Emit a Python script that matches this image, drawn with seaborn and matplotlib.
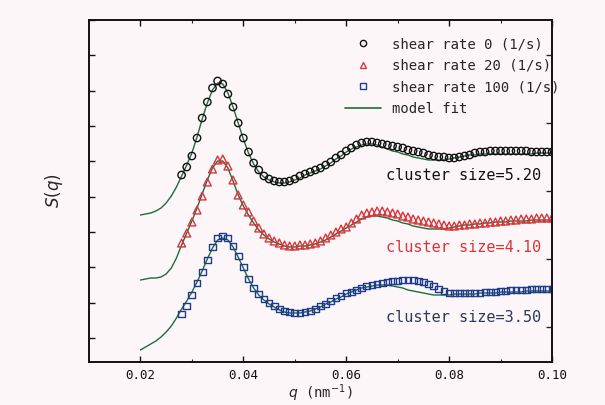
import numpy as np
import pandas as pd
import matplotlib
matplotlib.use("Agg")
import matplotlib.pyplot as plt
from matplotlib.lines import Line2D
import seaborn as sns

# ---------- data ----------
q_data = np.round(np.linspace(0.028, 0.100, 73), 3)
q_fit = np.round(np.linspace(0.020, 0.100, 81), 3)

s_rate0 = [1.87, 1.95, 2.06, 2.24, 2.44, 2.60, 2.74, 2.81, 2.78, 2.68,
           2.55, 2.39, 2.24, 2.10, 1.99, 1.92, 1.86, 1.83, 1.81, 1.80,
           1.80, 1.81, 1.83, 1.86, 1.88, 1.90, 1.92, 1.94, 1.97, 2.00,
           2.04, 2.07, 2.11, 2.14, 2.17, 2.19, 2.20, 2.20, 2.19, 2.18,
           2.17, 2.16, 2.15, 2.14, 2.12, 2.11, 2.10, 2.09, 2.07, 2.06,
           2.05, 2.05, 2.04, 2.04, 2.05, 2.06, 2.07, 2.09, 2.10, 2.10,
           2.11, 2.11, 2.11, 2.11, 2.11, 2.11, 2.11, 2.11, 2.10, 2.10, 2.10, 2.10, 2.10]
fit_rate0 = [1.47, 1.48, 1.49, 1.51, 1.54, 1.59, 1.66, 1.75, 1.86, 1.97,
             2.09, 2.25, 2.43, 2.59, 2.72, 2.79, 2.78, 2.69, 2.55, 2.39,
             2.23, 2.09, 1.98, 1.90, 1.85, 1.82, 1.80, 1.79, 1.79, 1.80,
             1.82, 1.84, 1.87, 1.89, 1.91, 1.93, 1.96, 1.99, 2.03, 2.06,
             2.10, 2.13, 2.15, 2.17, 2.18, 2.18, 2.17, 2.15, 2.13, 2.11,
             2.10, 2.08, 2.07, 2.05, 2.04, 2.03, 2.02, 2.02, 2.02, 2.02,
             2.03, 2.04, 2.05, 2.06, 2.07, 2.07, 2.08, 2.08, 2.08, 2.08,
             2.08, 2.08, 2.08, 2.08, 2.08, 2.08, 2.08, 2.09, 2.09, 2.09, 2.09]

s_rate20 = [1.19, 1.29, 1.40, 1.52, 1.66, 1.80, 1.93, 2.02, 2.03, 1.96,
            1.82, 1.67, 1.57, 1.50, 1.41, 1.34, 1.28, 1.24, 1.21, 1.19,
            1.17, 1.16, 1.16, 1.17, 1.17, 1.18, 1.19, 1.21, 1.24, 1.27,
            1.30, 1.33, 1.35, 1.39, 1.43, 1.47, 1.49, 1.50, 1.51, 1.51,
            1.50, 1.49, 1.48, 1.46, 1.45, 1.43, 1.42, 1.41, 1.40, 1.39,
            1.38, 1.37, 1.36, 1.36, 1.37, 1.37, 1.38, 1.38, 1.39, 1.39,
            1.40, 1.40, 1.41, 1.41, 1.42, 1.42, 1.43, 1.43, 1.43, 1.44, 1.44, 1.44, 1.44]
fit_rate20 = [0.82, 0.83, 0.84, 0.84, 0.85, 0.88, 0.94, 1.04, 1.17, 1.29,
              1.41, 1.54, 1.68, 1.82, 1.94, 2.01, 2.01, 1.94, 1.81, 1.67,
              1.56, 1.47, 1.39, 1.32, 1.27, 1.23, 1.20, 1.18, 1.16, 1.15,
              1.15, 1.16, 1.16, 1.17, 1.18, 1.20, 1.22, 1.25, 1.28, 1.31,
              1.34, 1.37, 1.40, 1.43, 1.45, 1.46, 1.46, 1.45, 1.44, 1.42,
              1.41, 1.39, 1.38, 1.36, 1.35, 1.34, 1.33, 1.33, 1.33, 1.33,
              1.34, 1.35, 1.36, 1.37, 1.37, 1.38, 1.38, 1.39, 1.39, 1.40,
              1.40, 1.40, 1.41, 1.41, 1.41, 1.41, 1.42, 1.42, 1.42, 1.42, 1.42]

s_rate100 = [0.48, 0.56, 0.67, 0.79, 0.90, 1.02, 1.15, 1.24, 1.26, 1.24,
             1.16, 1.06, 0.95, 0.83, 0.74, 0.68, 0.63, 0.59, 0.56, 0.53,
             0.51, 0.50, 0.49, 0.49, 0.50, 0.51, 0.53, 0.56, 0.58, 0.61,
             0.64, 0.66, 0.69, 0.70, 0.72, 0.74, 0.76, 0.77, 0.78, 0.79,
             0.80, 0.81, 0.81, 0.82, 0.82, 0.82, 0.81, 0.80, 0.78, 0.76,
             0.73, 0.71, 0.69, 0.69, 0.69, 0.69, 0.69, 0.69, 0.69, 0.70,
             0.70, 0.70, 0.71, 0.71, 0.72, 0.72, 0.72, 0.72, 0.73, 0.73, 0.73, 0.73, 0.73]
fit_rate100 = [0.12, 0.15, 0.18, 0.21, 0.25, 0.30, 0.36, 0.44, 0.53, 0.61,
               0.70, 0.80, 0.91, 1.03, 1.14, 1.22, 1.24, 1.22, 1.15, 1.05,
               0.94, 0.83, 0.74, 0.67, 0.62, 0.58, 0.55, 0.52, 0.50, 0.49,
               0.49, 0.49, 0.50, 0.51, 0.53, 0.55, 0.58, 0.60, 0.63, 0.65,
               0.68, 0.70, 0.72, 0.74, 0.75, 0.76, 0.77, 0.77, 0.77, 0.76,
               0.75, 0.74, 0.72, 0.71, 0.70, 0.69, 0.68, 0.67, 0.67, 0.67,
               0.67, 0.68, 0.68, 0.68, 0.68, 0.68, 0.69, 0.69, 0.69, 0.69,
               0.70, 0.70, 0.70, 0.70, 0.70, 0.71, 0.71, 0.71, 0.71, 0.71, 0.71]

series_labels = ["shear rate 0 (1/s)", "shear rate 20 (1/s)", "shear rate 100 (1/s)"]
cluster_labels = ["cluster size=5.20", "cluster size=4.10", "cluster size=3.50"]
x_ticks = [0.02, 0.04, 0.06, 0.08, 0.10]
x_ticklabels = ["0.02", "0.04", "0.06", "0.08", "0.10"]

# ---------- style ----------
BG = "#fdf6f9"
FIT = "#1f6b3e"
colors = ["#111111", "#d8343a", "#1f3c8c"]
text_colors = ["#111111", "#d8343a", "#2c3a58"]
markers = ["o", "^", "s"]
msizes = [28, 32, 24]

sns.set_theme(style="ticks")
plt.rcParams["font.family"] = ["DejaVu Sans Mono", "DejaVu Sans"]

fig = plt.figure(figsize=(6.05, 4.05), dpi=100, facecolor=BG)
ax = fig.add_axes([89 / 605, 43 / 405, 463 / 605, 342 / 405])
ax.set_facecolor(BG)

data_sets = [s_rate0, s_rate20, s_rate100]
fit_sets = [fit_rate0, fit_rate20, fit_rate100]

for i in range(3):
    df_fit = pd.DataFrame({"q": q_fit, "S": fit_sets[i]})
    sns.lineplot(data=df_fit, x="q", y="S", ax=ax, color=FIT, lw=1.0, zorder=2)
for i in range(3):
    df = pd.DataFrame({"q": q_data, "S": data_sets[i]})
    sns.scatterplot(data=df, x="q", y="S", ax=ax, marker=markers[i], s=msizes[i],
                    fc="none", ec=colors[i], linewidth=1.0, zorder=3)

# cluster size notes
label_y = [1.87, 1.15, 0.45]
for i in range(3):
    ax.text(0.0978, label_y[i], cluster_labels[i], ha="right", va="center",
            fontsize=11, color=text_colors[i])

ax.set_xlim(0.01, 0.10)
ax.set_ylim(0, 3.42)
ax.set_xticks(x_ticks)
ax.set_xticklabels(x_ticklabels)
ax.set_xticks([0.03, 0.05, 0.07, 0.09], minor=True)
ax.set_yticks(np.linspace(0.24, 3.42, 10))
ax.set_yticklabels([])
ax.tick_params(axis="both", which="major", direction="in", length=4, width=1,
               top=True, labelsize=9, colors="#111111", pad=5)
ax.tick_params(axis="x", which="minor", direction="in", length=2.5, width=0.8, top=True)
ax.tick_params(axis="y", right=False)

# right-hand ticks sit on their own spacing
ax2 = ax.twinx()
ax2.set_ylim(0, 3.42)
ax2.set_yticks(np.linspace(0.35, 3.07, 5))
ax2.set_yticklabels([])
ax2.tick_params(axis="y", direction="in", length=4, width=1)

for a in (ax, ax2):
    for sp in a.spines.values():
        sp.set_color("#111111")
        sp.set_linewidth(1.2)

ax.set_xlabel(r"$q$ (nm$^{-1}$)", fontsize=10, labelpad=0)
ax.set_ylabel(r"$S(q)$", fontsize=12, labelpad=12)

# legend
handles = [Line2D([], [], ls="none", marker=markers[i], mfc="none", mec=colors[i],
                  ms=4.5, mew=1.0) for i in range(3)]
handles.append(Line2D([], [], color=FIT, lw=1.2))
ax.legend(handles, series_labels + ["model fit"], loc="upper left",
          bbox_to_anchor=(345 / 605, 1 - 37 / 405), bbox_transform=fig.transFigure,
          frameon=False, fontsize=10, handlelength=2.6, handletextpad=0.75,
          labelspacing=0.55, borderpad=0, borderaxespad=0)

fig.savefig("out.png", dpi=100, facecolor=BG)
